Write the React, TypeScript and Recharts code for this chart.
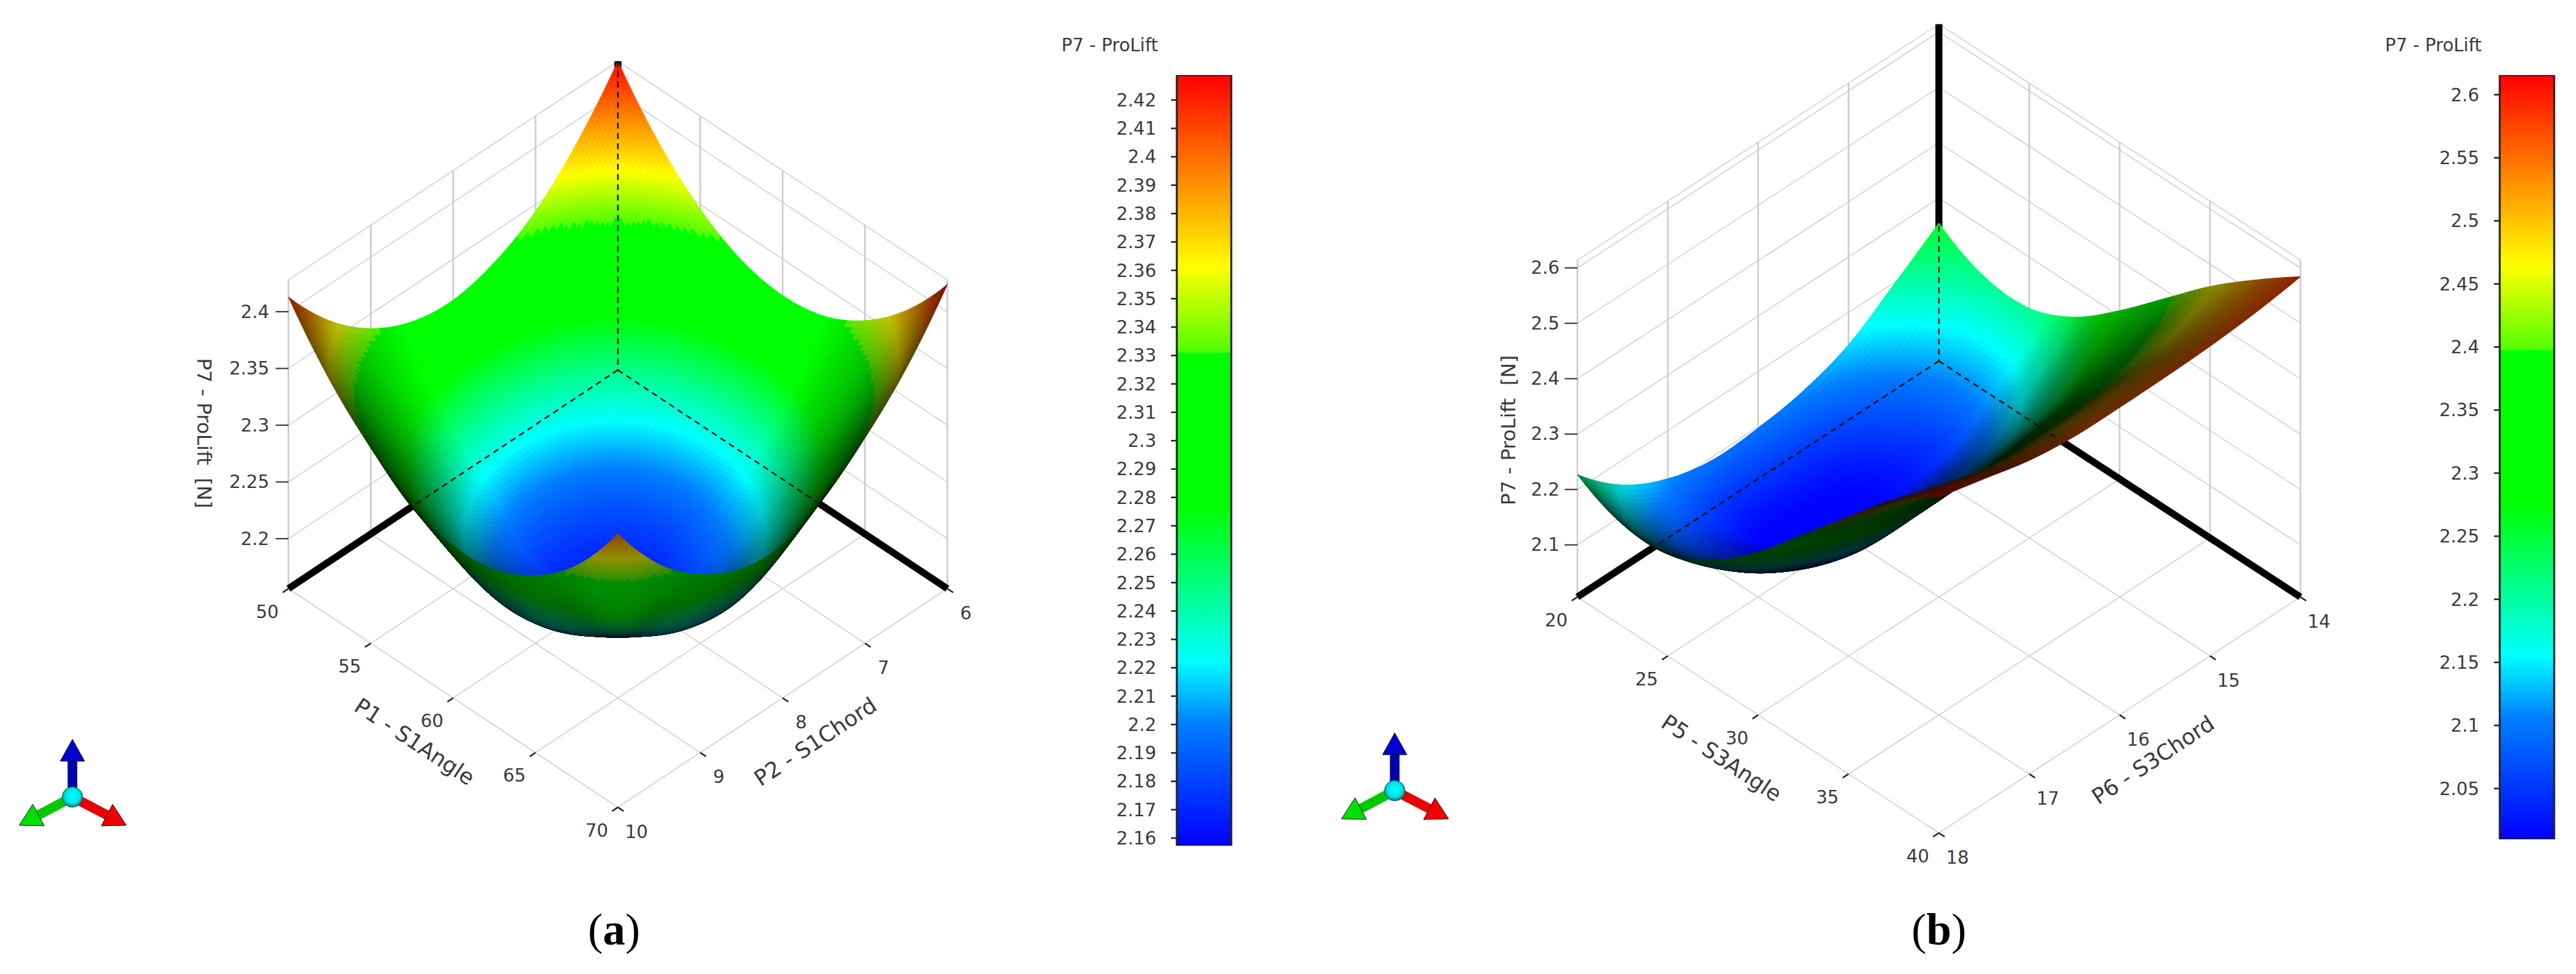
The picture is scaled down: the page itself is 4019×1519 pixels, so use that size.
import { BarChart, Bar, XAxis, YAxis, ScatterChart, Scatter } from "recharts";

const FONT = "'DejaVu Sans', sans-serif";
const TEXT = "#3a3a3a";

// surface values, rows = P1 / P5 step, columns = P2 / P6 step
const surfaceA = [
  [2.428, 2.38, 2.344, 2.323, 2.314, 2.319, 2.337, 2.368, 2.413],
  [2.38, 2.325, 2.285, 2.261, 2.251, 2.257, 2.277, 2.313, 2.364],
  [2.346, 2.286, 2.243, 2.216, 2.206, 2.212, 2.234, 2.273, 2.328],
  [2.325, 2.263, 2.217, 2.189, 2.178, 2.18, 2.2, 2.24, 2.3],
  [2.318, 2.254, 2.208, 2.179, 2.165, 2.168, 2.188, 2.22, 2.29],
  [2.324, 2.261, 2.216, 2.187, 2.168, 2.17, 2.19, 2.223, 2.293],
  [2.344, 2.284, 2.239, 2.205, 2.188, 2.19, 2.21, 2.243, 2.312],
  [2.377, 2.321, 2.28, 2.245, 2.22, 2.223, 2.243, 2.275, 2.345],
  [2.424, 2.374, 2.337, 2.308, 2.291, 2.294, 2.313, 2.346, 2.397],
];
const surfaceB = [
  [2.255, 2.197, 2.142, 2.112, 2.098, 2.094, 2.113, 2.155, 2.227],
  [2.212, 2.135, 2.071, 2.027, 2.014, 2.012, 2.046, 2.1, 2.19],
  [2.208, 2.121, 2.048, 2.019, 2.013, 2.015, 2.052, 2.112, 2.19],
  [2.245, 2.168, 2.106, 2.082, 2.077, 2.08, 2.115, 2.165, 2.232],
  [2.31, 2.249, 2.202, 2.184, 2.18, 2.182, 2.206, 2.245, 2.3],
  [2.385, 2.34, 2.309, 2.295, 2.288, 2.292, 2.309, 2.341, 2.385],
  [2.46, 2.431, 2.407, 2.396, 2.392, 2.391, 2.408, 2.438, 2.47],
  [2.525, 2.508, 2.496, 2.491, 2.489, 2.49, 2.502, 2.526, 2.553],
  [2.584, 2.572, 2.565, 2.562, 2.561, 2.562, 2.572, 2.592, 2.612],
];

const p1Ticks = [50, 55, 60, 65, 70];
const p2Ticks = [6, 7, 8, 9, 10];
const p5Ticks = [20, 25, 30, 35, 40];
const p6Ticks = [14, 15, 16, 17, 18];
const zTicksA = [2.2, 2.25, 2.3, 2.35, 2.4];
const zTicksB = [2.1, 2.2, 2.3, 2.4, 2.5, 2.6];
const barTicksA = [
  2.16, 2.17, 2.18, 2.19, 2.2, 2.21, 2.22, 2.23, 2.24, 2.25, 2.26, 2.27, 2.28, 2.29, 2.3, 2.31, 2.32, 2.33, 2.34,
  2.35, 2.36, 2.37, 2.38, 2.39, 2.4, 2.41, 2.42,
];
const barTicksB = [2.05, 2.1, 2.15, 2.2, 2.25, 2.3, 2.35, 2.4, 2.45, 2.5, 2.55, 2.6];

// blue - cyan - green - yellow - red, with the flat green band of the legend
const COLOR_STOPS: [number, number, number, number][] = [
  [0, 0, 0, 255],
  [0.157, 0, 125, 255],
  [0.24, 0, 255, 255],
  [0.44, 0, 255, 0],
  [0.64, 0, 255, 0],
  [0.6401, 80, 255, 0],
  [0.75, 255, 255, 0],
  [1, 255, 0, 0],
];

function colorAt(f: number) {
  const v = Math.max(0, Math.min(1, f));
  for (let k = 1; k < COLOR_STOPS.length; k++) {
    const a = COLOR_STOPS[k - 1];
    const b = COLOR_STOPS[k];
    if (v <= b[0]) {
      const u = (v - a[0]) / (b[0] - a[0]);
      return [a[1] + (b[1] - a[1]) * u, a[2] + (b[2] - a[2]) * u, a[3] + (b[3] - a[3]) * u];
    }
  }
  return [255, 0, 0];
}

// catmull-rom resampling so the mesh does not look faceted
function ghost(a: number[], i: number) {
  const n = a.length;
  if (i < 0) return 3 * a[0] - 3 * a[1] + a[2];
  if (i >= n) return 3 * a[n - 1] - 3 * a[n - 2] + a[n - 3];
  return a[i];
}
function resample(a: number[], m: number) {
  const out: number[] = [];
  for (let q = 0; q <= m; q++) {
    const t = (q / m) * (a.length - 1);
    const i = Math.min(Math.floor(t), a.length - 2);
    const u = t - i;
    const p0 = ghost(a, i - 1);
    const p1 = a[i];
    const p2 = a[i + 1];
    const p3 = ghost(a, i + 2);
    out.push(
      0.5 * (2 * p1 + (p2 - p0) * u + (2 * p0 - 5 * p1 + 4 * p2 - p3) * u * u + (3 * p1 - p0 - 3 * p2 + p3) * u * u * u),
    );
  }
  return out;
}
function resampleGrid(g: number[][], m: number) {
  const rows = g.map((r) => resample(r, m));
  const cols = rows[0].map((_, j) => resample(rows.map((r) => r[j]), m));
  return cols[0].map((_, i) => cols.map((c) => c[i]));
}

const Empty = () => <g />;

function Panel({ cfg }: { cfg: any }) {
  const { hw, gy, zk, zFloor, zTop, zMin, zMax, surface, sTicks, tTicks, zTicks } = cfg;
  const project = (s: number, t: number, z: number) => ({
    x: hw * (s - t),
    y: zk * (z - zFloor) - gy * (s + t),
  });
  const sOf = (v: number) => (v - sTicks[0]) / (sTicks[sTicks.length - 1] - sTicks[0]);
  const tOf = (v: number) => (v - tTicks[0]) / (tTicks[tTicks.length - 1] - tTicks[0]);

  const n = surface.length - 1;
  const meshData = surface.flatMap((row: number[], i: number) =>
    row.map((z: number, j: number) => project(i / n, j / n, z)),
  );

  const sinE = gy / hw;
  const cosE = Math.sqrt(1 - sinE * sinE);
  const slope = zk / cosE / (hw * Math.SQRT2);
  const vh = cosE / Math.SQRT2;

  const drawMesh = (props: any) => {
    const size = surface.length;
    const px: number[][] = [];
    const py: number[][] = [];
    for (let i = 0; i < size; i++) {
      px.push(props.points.slice(i * size, (i + 1) * size).map((p: any) => p.x));
      py.push(props.points.slice(i * size, (i + 1) * size).map((p: any) => p.y));
    }
    const m = 128;
    const X = resampleGrid(px, m);
    const Y = resampleGrid(py, m);
    const Z = resampleGrid(surface, m);
    const cells = [];
    for (let i = 0; i < m; i++) {
      for (let j = 0; j < m; j++) {
        const zs = ((Z[i + 1][j] + Z[i + 1][j + 1] - Z[i][j] - Z[i][j + 1]) / 2) * m;
        const zt = ((Z[i][j + 1] + Z[i + 1][j + 1] - Z[i][j] - Z[i + 1][j]) / 2) * m;
        const nx = -zs * slope;
        const ny = -zt * slope;
        const d = (nx * vh + ny * vh + sinE) / Math.sqrt(nx * nx + ny * ny + 1);
        let light = Math.min(1, cfg.ambient + cfg.diffuse * Math.abs(d));
        if (d < 0) light *= 0.85;
        const z = (Z[i][j] + Z[i + 1][j] + Z[i][j + 1] + Z[i + 1][j + 1]) / 4;
        const c = colorAt((z - zMin) / (zMax - zMin));
        const fill = `rgb(${Math.round(c[0] * light)},${Math.round(c[1] * light)},${Math.round(c[2] * light)})`;
        cells.push(
          <path
            key={`${i}-${j}`}
            d={`M${X[i][j]} ${Y[i][j]}L${X[i + 1][j]} ${Y[i + 1][j]}L${X[i + 1][j + 1]} ${Y[i + 1][j + 1]}L${X[i][j + 1]} ${Y[i][j + 1]}Z`}
            fill={fill}
            stroke={fill}
            strokeWidth={1}
          />,
        );
      }
    }
    return <g>{cells}</g>;
  };

  // back walls and floor
  const thin: any[][] = [];
  const wall: any[][] = [];
  sTicks.forEach((v: number) => {
    const s = sOf(v);
    thin.push([project(s, 0, zFloor), project(s, 1, zFloor)]);
    wall.push([project(s, 0, zFloor), project(s, 0, zTop)]);
  });
  tTicks.forEach((v: number) => {
    const t = tOf(v);
    thin.push([project(0, t, zFloor), project(1, t, zFloor)]);
    wall.push([project(0, t, zFloor), project(0, t, zTop)]);
  });
  [...zTicks, zTop].forEach((z: number) => {
    thin.push([project(0, 0, z), project(0, 1, z)]);
    thin.push([project(0, 0, z), project(1, 0, z)]);
  });

  const thick = [
    [project(0, 0, zFloor), project(0, 1, zFloor)],
    [project(0, 0, zFloor), project(1, 0, zFloor)],
    [project(0, 0, zFloor), project(0, 0, zTop)],
  ];
  const dashed = [
    [project(0, 0, zFloor), project(0, cfg.hideT, zFloor)],
    [project(0, 0, zFloor), project(cfg.hideS, 0, zFloor)],
    [project(0, 0, cfg.hideZ), project(0, 0, zFloor)],
  ];

  const line = (pts: any[], key: string, style: any) => (
    <Scatter key={key} data={pts} line={style} shape={Empty} isAnimationActive={false} />
  );

  const zLabels = zTicks.map((z: number) => ({ ...project(0, 1, z), label: String(z) }));
  const sLabels = sTicks.map((v: number) => ({ ...project(sOf(v), 1, zFloor), label: String(v) }));
  const tLabels = tTicks.map((v: number) => ({ ...project(1, tOf(v), zFloor), label: String(v) }));

  const ZTick = (p: any) => (
    <g>
      <line x1={p.cx - 20} y1={p.cy} x2={p.cx} y2={p.cy} stroke="#333" strokeWidth={2} />
      <text x={p.cx - cfg.zLabelGap} y={p.cy} textAnchor="end" dominantBaseline="central" fontFamily={FONT} fontSize={28} fill={TEXT}>
        {p.payload.label}
      </text>
    </g>
  );
  const STick = (p: any) => (
    <g>
      <line x1={p.cx} y1={p.cy} x2={p.cx - 9} y2={p.cy + 6} stroke="#222" strokeWidth={2.5} />
      <text x={p.cx - 33} y={p.cy + 36} textAnchor="middle" dominantBaseline="central" fontFamily={FONT} fontSize={28} fill={TEXT}>
        {p.payload.label}
      </text>
    </g>
  );
  const TTick = (p: any) => (
    <g>
      <line x1={p.cx} y1={p.cy} x2={p.cx + 9} y2={p.cy + 6} stroke="#222" strokeWidth={2.5} />
      <text x={p.cx + 29} y={p.cy + 38} textAnchor="middle" dominantBaseline="central" fontFamily={FONT} fontSize={28} fill={TEXT}>
        {p.payload.label}
      </text>
    </g>
  );
  const Title = (p: any) => {
    const { label, dx, dy, rot, size } = p.payload;
    const x = p.cx + dx;
    const y = p.cy + dy;
    return (
      <text
        x={x}
        y={y}
        transform={`rotate(${rot} ${x} ${y})`}
        textAnchor="middle"
        dominantBaseline="central"
        fontFamily={FONT}
        fontSize={size}
        fill={TEXT}
        style={{ whiteSpace: "pre" }}
      >
        {label}
      </text>
    );
  };
  const titles = [
    { ...project(0.5, 1, zFloor), label: cfg.sTitle, dx: cfg.sDx, dy: cfg.sDy, rot: 33.5, size: 34 },
    { ...project(1, 0.5, zFloor), label: cfg.tTitle, dx: cfg.tDx, dy: cfg.tDy, rot: -33.5, size: 34 },
    { ...project(0, 1, cfg.zTitleAt), label: "P7 - ProLift  [N]", dx: cfg.zDx, dy: 0, rot: cfg.zRot, size: 31 },
  ];

  const Triad = (p: any) => {
    const arrow = (tx: number, ty: number, shaft: string, head: string) => {
      const len = Math.hypot(tx, ty);
      const ux = tx / len;
      const uy = ty / len;
      const bx = tx - ux * 34;
      const by = ty - uy * 34;
      return (
        <g>
          <line x1={0} y1={0} x2={bx} y2={by} stroke={shaft} strokeWidth={15} />
          <polygon points={`${tx},${ty} ${bx - uy * 19},${by + ux * 19} ${bx + uy * 19},${by - ux * 19}`} fill={head} stroke="#111" strokeWidth={1} />
        </g>
      );
    };
    return (
      <g transform={`translate(${p.cx} ${p.cy})`}>
        {arrow(0, -90, "#0000a8", "#0000d0")}
        {arrow(-83, 44, "#00c800", "#00e000")}
        {arrow(84, 44, "#e80000", "#f00000")}
        <circle r={16} fill={`url(#sphere${cfg.id})`} stroke="#0a5a5a" strokeWidth={1} />
      </g>
    );
  };

  return (
    <div style={{ position: "absolute", left: cfg.left, top: 0 }}>
      <ScatterChart width={cfg.width} height={1519} margin={{ top: 0, right: 0, bottom: 0, left: 0 }}>
        <defs>
          <radialGradient id={`sphere${cfg.id}`} cx="50%" cy="45%" r="55%">
            <stop offset="0%" stopColor="#00ffff" />
            <stop offset="65%" stopColor="#00e4e4" />
            <stop offset="100%" stopColor="#067a7a" />
          </radialGradient>
        </defs>
        <XAxis type="number" dataKey="x" domain={cfg.xDomain} hide allowDataOverflow />
        <YAxis type="number" dataKey="y" domain={cfg.yDomain} hide allowDataOverflow />
        {thin.map((pts, i) => line(pts, `thin${i}`, { stroke: "#d2d2d2", strokeWidth: 1.6 }))}
        {wall.map((pts, i) => line(pts, `wall${i}`, { stroke: "#cccccc", strokeWidth: 2.6 }))}
        {thick.map((pts, i) => line(pts, `thick${i}`, { stroke: "#000", strokeWidth: 11 }))}
        <Scatter data={meshData} line={drawMesh} shape={Empty} isAnimationActive={false} />
        {dashed.map((pts, i) => line(pts, `dash${i}`, { stroke: "#111", strokeWidth: 2.4, strokeDasharray: "9 7" }))}
        <Scatter data={zLabels} shape={ZTick} isAnimationActive={false} />
        <Scatter data={sLabels} shape={STick} isAnimationActive={false} />
        <Scatter data={tLabels} shape={TTick} isAnimationActive={false} />
        <Scatter data={titles} shape={Title} isAnimationActive={false} />
        <Scatter data={[cfg.triad]} shape={Triad} isAnimationActive={false} />
      </ScatterChart>
    </div>
  );
}

function ColorBar({ cfg }: { cfg: any }) {
  const data = [{ name: "P7", range: [cfg.min, cfg.max] }];
  return (
    <div style={{ position: "absolute", left: cfg.left, top: cfg.top }}>
      <BarChart
        width={cfg.width}
        height={cfg.height}
        data={data}
        barCategoryGap={0}
        margin={{ top: cfg.mTop, right: cfg.mRight, bottom: cfg.mBottom, left: 0 }}
      >
        <defs>
          <linearGradient id={`legend${cfg.id}`} x1="0" y1="0" x2="0" y2="1">
            {[...COLOR_STOPS].reverse().map((s, i) => (
              <stop key={i} offset={1 - s[0]} stopColor={`rgb(${s[1]},${s[2]},${s[3]})`} />
            ))}
          </linearGradient>
        </defs>
        <XAxis dataKey="name" hide />
        <YAxis
          type="number"
          domain={[cfg.min, cfg.max]}
          ticks={cfg.ticks}
          interval={0}
          width={cfg.axisWidth}
          axisLine={false}
          tickSize={9}
          tickMargin={23}
          tickLine={{ stroke: "#222", strokeWidth: 2.5 }}
          tick={{ fontFamily: FONT, fontSize: 28, fill: TEXT }}
          allowDataOverflow
        />
        <Bar dataKey="range" fill={`url(#legend${cfg.id})`} stroke="#222" strokeWidth={3} isAnimationActive={false} />
      </BarChart>
      <div
        style={{
          position: "absolute",
          left: cfg.titleLeft,
          top: cfg.titleTop,
          fontFamily: FONT,
          fontSize: 28,
          color: TEXT,
          whiteSpace: "nowrap",
        }}
      >
        P7 - ProLift
      </div>
    </div>
  );
}

const panelA = {
  id: "a",
  left: 0,
  width: 1628,
  xDomain: [-964, 664],
  yDomain: [-942, 577],
  hw: 514,
  gy: 341,
  zk: 1770,
  zFloor: 2.156,
  zTop: 2.428,
  zMin: 2.1573,
  zMax: 2.4288,
  surface: surfaceA,
  sTicks: p1Ticks,
  tTicks: p2Ticks,
  zTicks: zTicksA,
  hideT: 0.615,
  hideS: 0.605,
  hideZ: 2.428,
  ambient: 0.1,
  diffuse: 1.32,
  zLabelGap: 30,
  sTitle: "P1 - S1Angle",
  tTitle: "P2 - S1Chord",
  sDx: -60,
  sDy: 68,
  tDx: 51,
  tDy: 68,
  zTitleAt: 2.293,
  zDx: -131,
  zRot: 90,
  triad: { x: -851, y: -666 },
};

const panelB = {
  id: "b",
  left: 2040,
  width: 1660,
  xDomain: [-985, 675],
  yDomain: [-956, 563],
  hw: 564,
  gy: 368,
  zk: 864,
  zFloor: 2.006,
  zTop: 2.614,
  zMin: 2.0097,
  zMax: 2.6156,
  surface: surfaceB,
  sTicks: p5Ticks,
  tTicks: p6Ticks,
  zTicks: zTicksB,
  hideT: 0.79,
  hideS: 0.323,
  hideZ: 2.25,
  ambient: 0.1,
  diffuse: 1.4,
  zLabelGap: 28,
  sTitle: "P5 - S3Angle",
  tTitle: "P6 - S3Chord",
  sDx: -57,
  sDy: 67,
  tDx: 52,
  tDy: 70,
  zTitleAt: 2.307,
  zDx: -108,
  zRot: -90,
  triad: { x: -849, y: -670 },
};

const barA = {
  id: "a",
  left: 1640,
  top: 100,
  width: 290,
  height: 1240,
  mTop: 17,
  mBottom: 21,
  mRight: 9,
  axisWidth: 196,
  min: 2.1573,
  max: 2.4288,
  ticks: barTicksA,
  titleLeft: 16,
  titleTop: -46,
};

const barB = {
  id: "b",
  left: 3700,
  top: 100,
  width: 295,
  height: 1225,
  mTop: 17,
  mBottom: 16,
  mRight: 10,
  axisWidth: 200,
  min: 2.0097,
  max: 2.6156,
  ticks: barTicksB,
  titleLeft: 21,
  titleTop: -46,
};

const caption = (left: number, letter: string) => (
  <div
    style={{
      position: "absolute",
      left,
      top: 1410,
      fontFamily: "'Liberation Serif', serif",
      fontSize: 70,
      color: "#000",
      transform: "translateX(-50%)",
    }}
  >
    (<b>{letter}</b>)
  </div>
);

export default function App() {
  return (
    <div style={{ position: "absolute", left: 0, top: 0, width: 4019, height: 1519, background: "#fff", overflow: "hidden" }}>
      <Panel cfg={panelA} />
      <Panel cfg={panelB} />
      <ColorBar cfg={barA} />
      <ColorBar cfg={barB} />
      {caption(958, "a")}
      {caption(3025, "b")}
    </div>
  );
}
